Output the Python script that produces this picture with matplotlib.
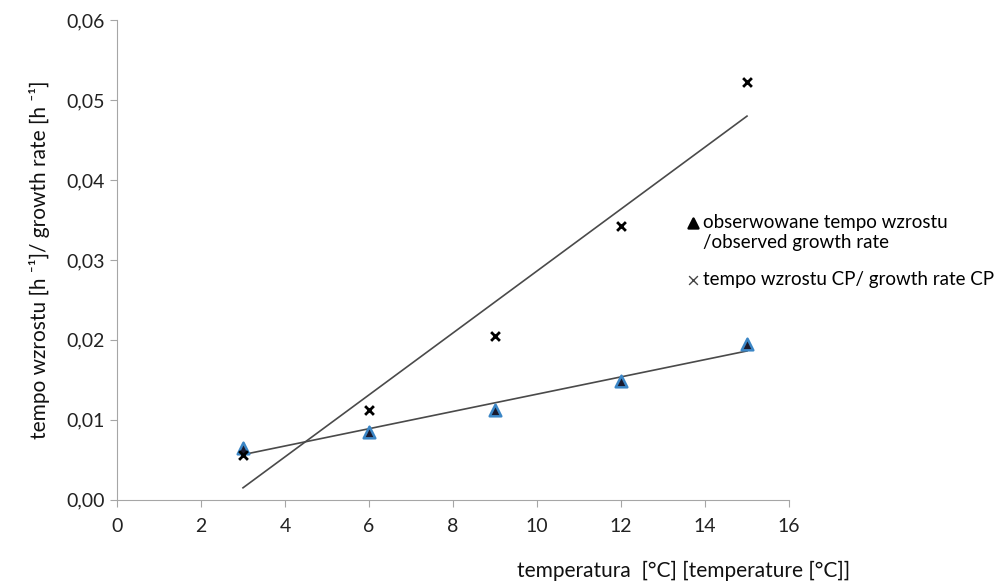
import numpy as np
import matplotlib.pyplot as plt

plt.rcParams['font.family'] = ['Lato', 'DejaVu Sans']

temperatura = [3, 6, 9, 12, 15]
obserwowane = [0.0065, 0.0085, 0.01125, 0.0149, 0.0195]
tempo_cp = [0.0056, 0.0112, 0.0205, 0.0342, 0.0522]

fig = plt.figure(figsize=(10, 5.88), dpi=100)
ax = fig.add_axes([0.117, 0.15, 0.672, 0.816])

# linie trendu
xs = np.array([temperatura[0], temperatura[-1]])
for ys in (obserwowane, tempo_cp):
    a, b = np.polyfit(temperatura, ys, 1)
    ax.plot(xs, a * xs + b, color='#4a4a4a', lw=1.2, zorder=2)

ax.scatter(temperatura, obserwowane, marker='^', s=70, c='#1a1a2e',
           edgecolors='#3b86c6', linewidths=1.8, zorder=3,
           label='obserwowane tempo wzrostu\n/observed growth rate')
ax.scatter(temperatura, tempo_cp, marker='x', s=40, c='black',
           linewidths=2, zorder=4,
           label='tempo wzrostu CP/ growth rate CP')

ax.set_xlim(0, 16)
ax.set_ylim(0, 0.06)
ax.set_xticks(range(0, 17, 2))
ax.set_yticks(np.arange(0, 0.061, 0.01))
ax.set_yticklabels([f'{v:.2f}'.replace('.', ',') for v in np.arange(0, 0.061, 0.01)])

for s in ('top', 'right'):
    ax.spines[s].set_visible(False)
for s in ('left', 'bottom'):
    ax.spines[s].set_color('#a6a6a6')
ax.tick_params(colors='#a6a6a6', labelcolor='#222222', labelsize=14,
               length=5, direction='out')
ax.tick_params(axis='x', pad=8)

ax.set_ylabel('tempo wzrostu [h \u207b\u00b9]/ growth rate [h \u207b\u00b9]',
              fontsize=15, color='#111111', labelpad=12)
fig.text(0.684, 0.018, 'temperatura  [\u00b0C] [temperature [\u00b0C]]',
         ha='center', fontsize=15, color='#111111')

leg = ax.legend(loc='upper left', bbox_to_anchor=(0.667, 0.665),
                bbox_transform=fig.transFigure, frameon=False, fontsize=13.5,
                handletextpad=0.0, handlelength=1.0, labelspacing=1.1)
hs = leg.legend_handles
hs[0].set_sizes([50])
hs[0].set_edgecolor('black')
hs[0].set_facecolor('black')
# trojkat w legendzie na wysokosci pierwszej linii
off = hs[0].get_offsets()
off[:, 1] += 8
hs[0].set_offsets(off)
hs[1].set_sizes([40])
hs[1].set_linewidth(1)
hs[1].set_color('#444444')

fig.savefig('out.png', dpi=100)
